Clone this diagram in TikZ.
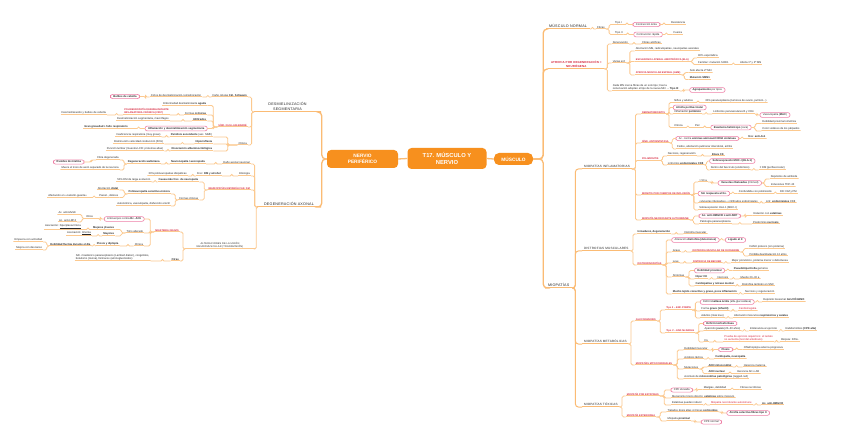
\documentclass[tikz,border=0pt]{standalone}
\usepackage{fontspec}
\setmainfont{Liberation Sans}
\newfontfamily\hf[LetterSpace=6]{Liberation Sans}
\definecolor{ln}{HTML}{FCC98F}
\definecolor{lnd}{HTML}{FBBB74}
\definecolor{org}{HTML}{F7901E}
\definecolor{rd}{HTML}{D7263D}
\definecolor{pkc}{HTML}{EE7FA6}
\definecolor{tx}{HTML}{2A2A2A}
\tikzset{
 ul/.style={path picture={\draw[ln,line width=0.8pt] ([yshift=0.4pt]path picture bounding box.south west) -- ([yshift=0.4pt]path picture bounding box.south east);}},
 ulb/.style={path picture={\draw[lnd,line width=1.2pt] ([yshift=0.6pt]path picture bounding box.south west) -- ([yshift=0.6pt]path picture bounding box.south east);}},
 tp/.style={ul, font=\fontsize{2.7}{3.1}\selectfont, text=tx, inner xsep=1.2pt, inner ysep=0.9pt, outer sep=0pt, align=left},
 rdt/.style={text=rd, font=\fontsize{2.45}{2.9}\selectfont\bfseries},
 pk/.style={draw=pkc, line width=0.6pt, rounded corners=2.2pt, fill=white, font=\fontsize{2.7}{3.1}\selectfont, text=tx, inner xsep=3pt, inner ysep=1.1pt, outer sep=0pt},
 cn/.style={ln, line width=0.8pt, rounded corners=1.5pt},
 cnb/.style={lnd, line width=1.3pt, rounded corners=4pt},
 cnm/.style={lnd, line width=1pt, rounded corners=3pt},
 lvA/.style={ulb, text=tx, font=\hf\fontsize{3.7}{4.6}\selectfont, inner xsep=3pt, inner ysep=1.5pt, outer sep=0pt, align=center},
 lvB/.style={ulb, text=tx, font=\hf\fontsize{3.1}{3.8}\selectfont, inner xsep=2pt, inner ysep=1.2pt, outer sep=0pt, align=center},
 bx/.style={fill=org, rounded corners=4pt, text=white, align=center, inner sep=1pt}
}
\newcommand\mRN[6][]{\node[tp,anchor=south west,xshift=#4,#1] (#2) at (#3 |- 0,#5) {#6};\draw[cn] (#3) -- ++({#4*0.4},0) |- (#2.south west);}
\newcommand\mRP[6][]{\node[pk,anchor=west,xshift=#4,#1] (#2) at (#3 |- 0,#5) {#6};\draw[cn] (#3) -- ++({#4*0.4},0) |- (#2.west);}
\newcommand\mLN[6][]{\node[tp,anchor=south east,xshift=-#4,#1] (#2) at (#3 |- 0,#5) {#6};\draw[cn] (#3) -- ++({-#4*0.4},0) |- (#2.south east);}
\newcommand\mLP[6][]{\node[pk,anchor=east,xshift=-#4,#1] (#2) at (#3 |- 0,#5) {#6};\draw[cn] (#3) -- ++({-#4*0.4},0) |- (#2.east);}
\begin{document}
\begin{tikzpicture}[x=1pt,y=-1pt]
\fill[white] (0,0) rectangle (848,446);
\useasboundingbox (0,0) rectangle (848,446);
% central
\node[bx,minimum width=79pt,minimum height=21pt,font=\fontsize{5.8}{6.8}\selectfont\bfseries] (root) at (447,158.5) {T17. MÚSCULO Y\\NERVIO};
\node[bx,minimum width=71pt,minimum height=18pt,font=\fontsize{4.8}{5.8}\selectfont\bfseries] (nerv) at (362.5,159) {NERVIO\\PERIFÉRICO};
\node[bx,minimum width=39pt,minimum height=12pt,rounded corners=5pt,font=\fontsize{4.8}{5.8}\selectfont\bfseries] (musc) at (513.5,159) {MÚSCULO};
\draw[cnb] (root.west) -- (nerv.east);
\draw[cnb] (root.east) -- (musc.west);
% level 1 right
\node[lvA,anchor=south west] (mnorm) at (546,29) {MÚSCULO NORMAL};
\node[lvA,anchor=south west,text=rd,font=\hf\fontsize{2.9}{3.6}\selectfont\bfseries] (atro) at (548,69) {ATROFIA POR DEGENERACIÓN =\\NEURÓGENA};
\node[lvA,anchor=south west] (miop) at (545,288) {MIOPATÍAS};
\draw[cnb] (musc.east) -- ++(10,0) |- (mnorm.south west);
\draw[cnb] (musc.east) -- ++(10,0) |- (atro.south west);
\draw[cnb] (musc.east) -- ++(10,0) |- (miop.south west);
\node[lvB,anchor=south west] (minf) at (582,169) {MIOPATÍAS INFLAMATORIAS};
\node[lvB,anchor=south west] (dist) at (582,251) {DISTROFIAS MUSCULARES};
\node[lvB,anchor=south west] (mmet) at (582,344) {MIOPATÍAS METABÓLICAS};
\node[lvB,anchor=south west] (mtox) at (582,407) {MIOPATÍAS TÓXICAS};
\draw[cnm] (miop.south east) -- ++(3,0) |- (minf.south west);
\draw[cnm] (miop.south east) -- ++(3,0) |- (dist.south west);
\draw[cnm] (miop.south east) -- ++(3,0) |- (mmet.south west);
\draw[cnm] (miop.south east) -- ++(3,0) |- (mtox.south west);
% level 1 left
\node[lvA,anchor=south east,minimum width=67pt] (desm) at (321,112) {DESMIELINIZACIÓN\\SEGMENTARIA};
\node[lvA,anchor=south east,minimum width=64pt] (dega) at (321,207) {DEGENERACIÓN AXONAL};
\draw[cnb] (nerv.west) -- ++(-5,0) |- (desm.south east);
\draw[cnb] (nerv.west) -- ++(-5,0) |- (dega.south east);
% ---------- MUSCULO NORMAL
\mRN{fib}{mnorm.south east}{6}{29}{Fibras}
\mRN{t1}{fib.south east}{8}{24.5}{Tipo I}
\mRN{t2}{fib.south east}{8}{34.5}{Tipo II}
\mRP{cl}{t1.south east}{10}{24.5}{Contracción lenta}
\mRP{cr}{t2.south east}{10}{34.5}{Contracción rápida}
\mRN{fu}{cl.east}{10}{24.5}{Resistencia}
\mRN{re}{cr.east}{10}{34.5}{Fuerza}
% ---------- ATROFIA
\mRN{den}{atro.south east}{7}{44}{Denervación}
\mRN{fat}{den.south east}{12}{44}{Fibras atróficas}
\mRN{ven}{atro.south east}{7}{63}{Varias enf.}
\mRN{afm}{ven.south east}{8}{51}{Afectación MN, radiculopatías, neuropatías axonales}
\mRN[rdt]{ela}{ven.south east}{8}{61.5}{ESCLEROSIS LATERAL AMIOTRÓFICA (ELA)}
\mRN{e1}{ela.south east}{7}{58}{90\% esporádica}
\mRN{e2}{ela.south east}{7}{64.5}{Familiar: mutación SOD1}
\mRN{e3}{e2.south east}{9}{64.5}{Afecta 1ª y 2ª MN}
\mRN[rdt]{ame}{ven.south east}{8}{75}{ATROFIA MUSCULAR ESPINAL (AME)}
\mRN{a1}{ame.south east}{7}{72.5}{Solo afecta 2ª MN}
\mRN{a2}{ame.south east}{7}{79.5}{\textbf{Mutación SMN1}}
\mRN{cmn}{atro.south east}{7}{91}{Cada MN inerva fibras de un solo tipo; tras la\\reinervación adoptan el tipo de la nueva MN → \textbf{Tipo III}}
\mRP{agr}{cmn.south east}{10}{90}{\textbf{Agrupamiento} por tipos}
% ---------- MIOPATIAS INFLAMATORIAS
\mRN[rdt]{derm}{minf.south east}{9}{114}{DERMATOMIOSITIS}
\mRN{d1}{derm.south east}{7}{102.5}{Niños y adultos}
\mRN{d1b}{d1.south east}{10}{102.5}{30\% paraneoplásica (tumores de ovario, pulmón...)}
\mRP{d2}{derm.south east}{7}{107.5}{\textbf{Atrofia perifascicular}}
\mRN{d3}{derm.south east}{7}{114}{Inflamación \textbf{perimisio}}
\mRN{d3b}{d3.south east}{10}{114}{Linfocitos perivasculares B y CD4}
\mRP{d3c}{d3b.south east}{5}{115}{Vasculopatía (\textbf{MAC})}
\mRN{d4}{derm.south east}{7}{127.5}{Clínica}
\mRN{d4b}{d4.south east}{10}{127.5}{Piel}
\mRP{d4c}{d4b.south east}{10}{127.5}{\textbf{Exantema heliotropo} (cara)}
\mRN{d4d}{d4c.east}{10}{123.5}{Debilidad proximal simétrica}
\mRN{d4e}{d4c.east}{10}{131}{Color violáceo de los párpados}
\mRN[rdt]{sas}{minf.south east}{9}{143}{SÍND. ANTISINTETASA}
\mRP{s1}{sas.south east}{6}{138.5}{Ac. contra \textbf{enzimas aminoacil tRNA sintetasa}}
\mRN{s1b}{s1.east}{8}{138.5}{Más: \textbf{anti-Jo1}}
\mRN{s2}{sas.south east}{6}{149}{Fiebre, afectación pulmonar intersticial, artritis}
\mRN[rdt]{pm}{minf.south east}{9}{160.5}{POLIMIOSITIS}
\mRN{p1}{pm.south east}{7}{156}{Necrosis, regeneración}
\mRN{p1b}{p1.south east}{14}{156}{\textbf{Eleva CK}}
\mRN{p2}{pm.south east}{7}{165}{Linfocitos \textbf{endomisiales CD8}}
\mRP{p2b}{p2.south east}{5}{161}{\textbf{Sobreexpresión MHC-I (HLA-1)}}
\mRN{p2c}{p2.south east}{5}{170}{Dentro del fascículo (endomisio)}
\mRN{p2d}{p2c.south east}{8}{170}{≠ DM (perifascicular)}
\mRN[rdt]{mci}{minf.south east}{9}{195}{MIOSITIS POR CUERPOS DE INCLUSIÓN}
\mRN{m1}{mci.south east}{7}{182}{> 50 a}
\mRP{m1b}{m1.south east}{10}{183}{\textbf{Vacuolas ribeteadas} (rimmed)}
\mRN{m1c}{m1b.east}{8}{179}{Depósitos de amiloide}
\mRN{m1d}{m1b.east}{8}{186.5}{Inclusiones TDP-43}
\mRP{m2}{mci.south east}{7}{193.5}{\textbf{Sin respuesta al tto.}}
\mRN{m2b}{m2.east}{8}{193.5}{Confundida con polimiositis}
\mRN{m2c}{m2b.south east}{6}{193.5}{DD: DM y PM}
\mRN{m3}{mci.south east}{7}{203}{«Vacuolas ribeteadas» + infiltrados endomisiales}
\mRN{m3b}{m3.south east}{6}{203}{Linf. \textbf{endomisiales} CD8}
\mRN{m4}{mci.south east}{7}{210}{Sobreexpresión HLA-1 (MHC-I)}
\mRN[rdt]{mna}{minf.south east}{9}{220}{MIOPATÍA NECROSANTE AUTOINMUNE}
\mRP{n1}{mna.south east}{9}{216}{\textbf{Ac. anti-HMGCR o anti-SRP}}
\mRN{n1b}{n1.east}{12}{215.5}{Relación con \textbf{estatinas}}
\mRN{n2}{mna.south east}{9}{224}{Patología paraneoplásica}
\mRN{n2b}{n2.south east}{20}{224}{Predominio \textbf{necrosis}}
% ---------- DISTROFIAS
\mRN{i1}{dist.south east}{6}{234}{\textbf{Inmadurez, degeneración}}
\mRN{i1b}{i1.south east}{12}{234}{Distrofia muscular}
\mRN[rdt]{dfp}{dist.south east}{6}{265}{DISTROFINOPATÍAS}
\mRP{f1}{dfp.south east}{9}{240}{Alteración \textbf{distrofina (deleciones)}}
\mRP{f1b}{f1.east}{6}{240}{\textbf{Ligado al X}}
\mRN{f2}{dfp.south east}{9}{252}{Grave}
\mRN[rdt]{dmd}{f2.south east}{10}{252}{DISTROFIA MUSCULAR DE DUCHENNE}
\mRN{f2a}{dmd.south east}{8}{248.5}{Déficit proteico (sin proteína)}
\mRN{f2b}{dmd.south east}{8}{256}{Pérdida deambulación 12 años}
\mRN{f3}{dfp.south east}{9}{263}{Leve}
\mRN[rdt]{bmd}{f3.south east}{12}{263}{DISTROFIA DE BECKER}
\mRN{f3a}{bmd.south east}{8}{263}{Mejor pronóstico, proteína menor o defectuosa}
\mRN{f4}{dfp.south east}{9}{277}{Síntomas}
\mRP{f4a}{f4.south east}{9}{270.5}{\textbf{Debilidad proximal}}
\mRN{f4a2}{f4a.east}{8}{270.5}{\textbf{Pseudohipertrofia} gemelos}
\mRN{f4b}{f4.south east}{9}{279}{\textbf{Hiper CK}}
\mRN{f4b2}{f4b.south east}{8}{279}{Necrosis}
\mRN{f4b3}{f4b2.south east}{10}{279}{Muerte 20–30 a}
\mRN{f4c}{f4.south east}{9}{286}{\textbf{Cardiopatías y retraso mental}}
\mRN{f4c2}{f4c.south east}{6}{286}{Distrofina también en SNC}
\mRN{f5}{dfp.south east}{9}{294}{\textbf{Mucho tejido conectivo y graso, poca inflamación}}
\mRN{f5b}{f5.south east}{6}{294}{Necrosis y regeneración}
% ---------- METABOLICAS
\mRN[rdt]{glu}{mmet.south east}{6}{321}{GLUCOGENOSIS}
\mRN[rdt]{pom}{glu.south east}{8}{310}{Tipo II – ENF. POMPE}
\mRP{g1}{pom.south east}{8}{302}{Déficit \textbf{maltasa ácida} (alfa-glucosidasa)}
\mRN{g1b}{g1.east}{8}{302}{Depósito lisosomal \textbf{GLUCÓGENO}}
\mRN{g2}{pom.south east}{8}{311}{Forma \textbf{grave (infantil)}}
\mRN[text=rd]{g2b}{g2.south east}{8}{311}{Cardiomegalia}
\mRN{g3}{pom.south east}{8}{318}{Adultos (más leve)}
\mRN{g3b}{g3.south east}{8}{318}{Afectación músculos \textbf{respiratorios y axiales}}
\mRN[rdt]{mca}{glu.south east}{8}{333}{Tipo V – ENF. McARDLE}
\mRP{h1}{mca.south east}{8}{323.5}{\textbf{Déficit miofosforilasa}}
\mRN{h2}{mca.south east}{8}{331}{Aparición \textbf{joven} (20–30 años)}
\mRN{h2b}{h2.south east}{7}{331}{Intolerancia al ejercicio}
\mRN{h2c}{h2b.south east}{6}{331}{Rabdomiólisis \textbf{(CPK alta)}}
\mRN{h3}{mca.south east}{8}{342}{Dx}
\mRN[text=rd]{h3b}{h3.south east}{14}{342}{Prueba de ejercicio isquémico: el lactato\\no aumenta (test del antebrazo)}
\mRN{h3c}{h3b.south east}{6}{342}{Biopsia: PAS+}
\mRN[rdt]{mit}{mmet.south east}{6}{365}{MIOPATÍAS MITOCONDRIALES}
\mRN{k1}{mit.south east}{10}{350}{Debilidad muscular}
\mRP{k1b}{k1.south east}{10}{349.5}{\textbf{Ptosis}}
\mRN{k1c}{k1b.east}{10}{349.5}{Oftalmoplejía externa progresiva}
\mRN{k2}{mit.south east}{10}{359}{Acidosis láctica}
\mRN{k2b}{k2.south east}{10}{359}{\textbf{Cardiopatía, neuropatía}}
\mRN{k3}{mit.south east}{10}{369}{Mutaciones}
\mRN{k3a}{k3.south east}{8}{367}{\textbf{ADN mitocondrial}}
\mRN{k3a2}{k3a.south east}{10}{367}{Herencia materna}
\mRN{k3b}{k3.south east}{8}{373.5}{\textbf{ADN nuclear}}
\mRN{k3b2}{k3b.south east}{10}{373.5}{Herencia AD o AR}
\mRN{k4}{mit.south east}{10}{379}{Acúmulo de \textbf{mitocondrias patológicas} (ragged-red)}
% ---------- TOXICAS
\mRN[rdt]{est}{mtox.south east}{6}{396}{MIOPATÍA POR ESTATINAS}
\mRP{t1x}{est.south east}{11}{390}{CPK elevada}
\mRN{t1b}{t1x.east}{10}{389.5}{Mialgias, debilidad}
\mRN{t1c}{t1b.south east}{12}{389.5}{Fibras necróticas}
\mRN{t2x}{est.south east}{11}{398}{Mecanismo tóxico directo: \textbf{estatinas} sobre músculo}
\mRN{t3x}{est.south east}{11}{405}{Estatinas pueden inducir}
\mRN[text=rd]{t3b}{t3x.south east}{7}{405}{Miopatía necrotizante autoinmune}
\mRN{t3c}{t3b.south east}{8}{405}{\textbf{Ac. anti-HMGCR}}
\mRN[rdt]{ste}{mtox.south east}{6}{417}{MIOPATÍA ESTEROIDEA}
\mRN{u1}{ste.south east}{10}{412}{Tratados dosis altas crónicas \textbf{corticoides}}
\mRP{u1b}{u1.south east}{8}{413}{\textbf{Atrofia selectiva fibras tipo II}}
\mRN{u2}{ste.south east}{10}{421}{Miopatía \textbf{proximal}}
\mRP{u2b}{u2.south east}{10}{422}{CPK normal}
% ---------- DESMIELINIZACION
\mLN{dsc}{desm.south west}{6}{97}{Daño células \textbf{Cél. Schwann}}
\mLN{dsc2}{dsc.south west}{9}{97}{Ciclos de desmielinización-remielinización}
\mLP{bulb}{dsc2.south west}{10}{96.5}{\textbf{Bulbos de cebolla}}
\mLN[rdt]{gb}{desm.south west}{6}{127}{SÍND. GUILLAIN-BARRÉ}
\mLN{gb1}{gb.south west}{10}{105.5}{Enfermedad desmielinizante \textbf{aguda}}
\mLN{gb2}{gb.south west}{10}{115}{Formas \textbf{crónicas}}
\mLN[rdt]{cidp}{gb2.south west}{14}{115}{POLINEUROPATÍA DESMIELINIZANTE\\INFLAMATORIA CRÓNICA (CIDP)}
\mLN{cidp2}{cidp.south west}{16}{115}{Desmielinización y bulbos de cebolla}
\mLN{gb3}{gb.south west}{10}{121}{\textbf{Infiltrados}}
\mLN{gb3b}{gb3.south west}{22}{121}{Desmielinización segmentaria, macrófagos}
\mLP{gb4}{gb.south west}{10}{128.5}{\textbf{Inflamación y desmielinización segmentaria}}
\mLN{gb4b}{gb4.west}{16}{128.5}{\textbf{Gran gravedad + fallo respiratorio}}
\mLN{gbc}{desm.south west}{6}{145}{Clínica}
\mLN{gbc1}{gbc.south west}{24}{137}{\textbf{Parálisis ascendente} (asc. MMII)}
\mLN{gbc1b}{gbc1.south west}{8}{137}{Insuficiencia respiratoria (muy grave)}
\mLN{gbc2}{gbc.south west}{24}{144}{\textbf{Hiporreflexia}}
\mLN{gbc2b}{gbc2.south west}{30}{144}{Disminución velocidad conducción (50\%)}
\mLN{gbc3}{gbc.south west}{24}{151}{\textbf{Disociación albuminocitológica}}
\mLN{gbc3b}{gbc3.south west}{6}{151}{Punción lumbar (muestra LCR: proteínas altas)}
% ---------- DEGENERACION AXONAL
\mLN{da1}{dega.south west}{6}{164}{Daño axonal neuronal}
\mLN{da1b}{da1.south west}{16}{164}{\textbf{Neuronopatía / axonopatía}}
\mLN{da1c}{da1b.south west}{9}{164}{\textbf{Degeneración walleriana}}
\mLN{da1d}{da1c.south west}{7}{160}{Fibra degenerada}
\mLP{ovo}{da1d.south west}{12}{162}{\textbf{Ovoides de mielina}}
\mLN{da1e}{da1c.south west}{7}{170}{Muere el trozo de axón separado de la neurona}
\mLN{da2}{dega.south west}{6}{176}{Etiología}
\mLN{da2b}{da2.south west}{16}{176}{Frec: \textbf{DM y alcohol}}
\mLN{da2c}{da2b.south west}{8}{176}{30\% polineuropatías idiopáticas}
\mLN[rdt]{nmd}{dega.south west}{6}{190}{NEUROPATÍAS METABÓLICAS: DM}
\mLN{nm1}{nmd.south west}{8}{182}{\textbf{Causa más frec. de neuropatía}}
\mLN{nm1b}{nm1.south west}{6}{182}{50\% DM de larga evolución}
\mLN{nm2}{nmd.south west}{8}{200}{Formas clínicas}
\mLN{nm2a}{nm2.south west}{7}{194}{\textbf{Polineuropatía sensitivo-motora}}
\mLN{nm2a1}{nm2a.south west}{8}{190}{Afectación \textbf{distal}}
\mLN{nm2a2}{nm2a.south west}{8}{197.5}{Parest., dolores}
\mLN{nm2a3}{nm2a2.south west}{10}{197.5}{Afectación en «calcetín-guante»}
\mLN{nm2b}{nm2.south west}{7}{206}{Autonómica, vasculopatía, disfunción eréctil}
\mLN[font=\hf\fontsize{2.5}{3.1}\selectfont,align=center,minimum width=70pt]{unm}{dega.south west}{2}{249}{ALTERACIONES DE LA UNIÓN\\NEUROMUSCULAR (TRANSMISIÓN)}
\mLN[rdt]{mg}{unm.south west}{5}{232}{MIASTENIA GRAVIS}
\mLP{mg1}{mg.south west}{10}{219}{Anticuerpos contra \textbf{Rc. ACh}}
\mLN{mg1b}{mg1.west}{10}{218.5}{Otros}
\mLN{mg1c}{mg1b.south west}{8}{214.5}{Ac. anti-MuSK}
\mLN{mg1d}{mg1b.south west}{8}{222}{Ac. anti-LRP4}
\mLN{mg2}{mg.south west}{10}{233}{Timo alterado}
\mLN{mg2a}{mg2.south west}{10}{229.5}{\textbf{Mujeres jóvenes}}
\mLN{mg2a2}{mg2a.south west}{10}{229.5}{Asociación: \underline{hiperplasia tímica}}
\mLN{mg2b}{mg2.south west}{10}{236}{\textbf{Mayores}}
\mLN{mg2b2}{mg2b.south west}{10}{236}{Asociación: \underline{timoma}}
\mLN{mg3}{mg.south west}{10}{246}{Clínica}
\mLN{mg3a}{mg3.south west}{14}{246}{\textbf{Ptosis y diplopía}}
\mLN{mg3b}{mg3a.south west}{4}{246}{\textbf{Debilidad fluctúa durante el día}}
\mLN{mg3c}{mg3b.south west}{6}{242}{Empeora con actividad}
\mLN{mg3d}{mg3b.south west}{6}{250}{Mejora con descanso}
\mLN{oth}{unm.south west}{5}{261}{\textbf{Otras}}
\mLN{oth2}{oth.south west}{20}{261}{Sdr. miasténico paraneoplásico (Lambert-Eaton), congénitos,\\botulismo (toxina), fármacos (aminoglucósidos)}
\end{tikzpicture}
\end{document}
